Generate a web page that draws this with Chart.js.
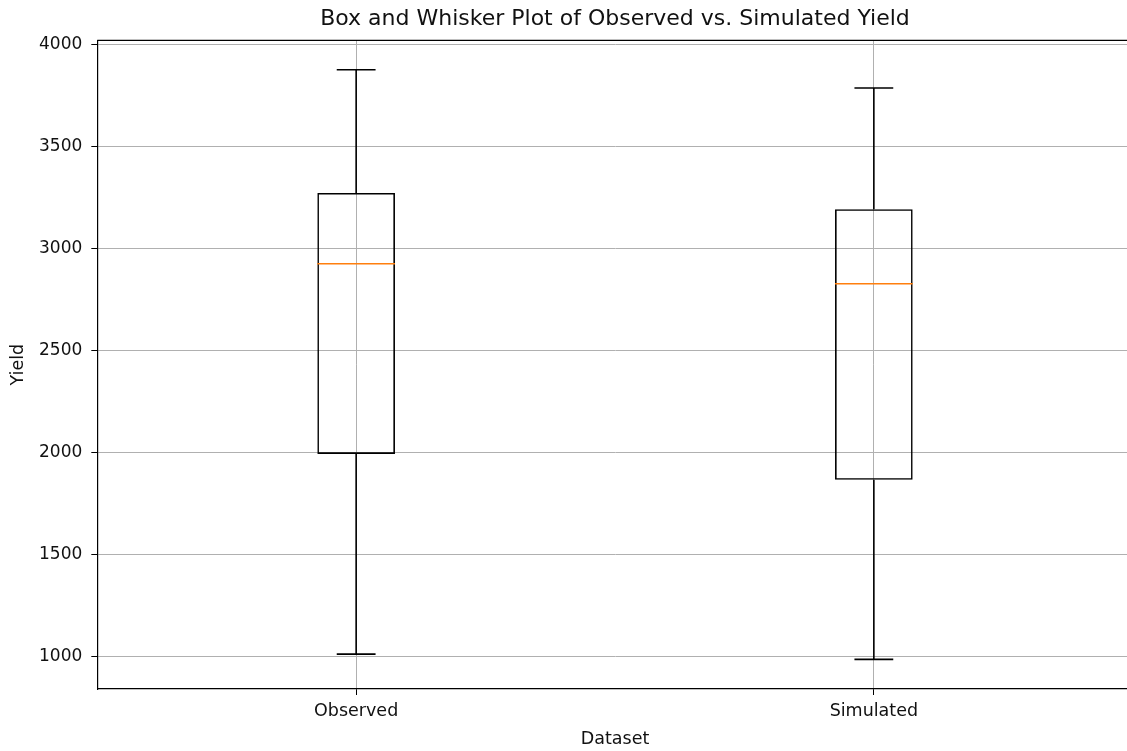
<!DOCTYPE html>
<html>
<head>
<meta charset="utf-8">
<title>Box and Whisker Plot of Observed vs. Simulated Yield</title>
<script src="https://cdn.jsdelivr.net/npm/chart.js@4.4.1/dist/chart.umd.min.js"></script>
<style>
  html, body { margin: 0; padding: 0; background: #ffffff; overflow: hidden; }
  #wrap { width: 1140px; height: 751px; }
</style>
</head>
<body>
<div id="wrap"><canvas id="chart" width="1140" height="751"></canvas></div>
<script>
// Five-number summaries per dataset
const categories = ['Observed', 'Simulated'];
const whiskerLow = [1013, 987];
const q1 = [1994, 1867];
const median = [2926, 2828];
const q3 = [3273, 3194];
const whiskerHigh = [3877, 3788];
const yTicks = [1000, 1500, 2000, 2500, 3000, 3500, 4000];

const FONT = "'DejaVu Sans', 'Liberation Sans', sans-serif";
const TEXT = '#111111';

// Whiskers, caps, medians and the top/right frame lines
const boxDecor = {
  id: 'boxDecor',
  afterDatasetsDraw(chart) {
    const { ctx, chartArea, scales } = chart;
    const xs = scales.x, ys = scales.y;
    const bars = chart.getDatasetMeta(0).data;
    ctx.save();
    categories.forEach((c, i) => {
      const cx = xs.getPixelForValue(i);
      const half = bars[i].width / 2;
      const capHalf = half / 2;
      ctx.strokeStyle = '#000000';
      ctx.lineWidth = 1.6;
      ctx.beginPath();
      ctx.moveTo(cx, ys.getPixelForValue(q3[i]));
      ctx.lineTo(cx, ys.getPixelForValue(whiskerHigh[i]));
      ctx.moveTo(cx, ys.getPixelForValue(q1[i]));
      ctx.lineTo(cx, ys.getPixelForValue(whiskerLow[i]));
      const yh = ys.getPixelForValue(whiskerHigh[i]);
      const yl = ys.getPixelForValue(whiskerLow[i]);
      ctx.moveTo(cx - capHalf, yh); ctx.lineTo(cx + capHalf, yh);
      ctx.moveTo(cx - capHalf, yl); ctx.lineTo(cx + capHalf, yl);
      ctx.stroke();
      ctx.strokeStyle = '#ff7f0e';
      ctx.beginPath();
      const ym = ys.getPixelForValue(median[i]);
      ctx.moveTo(cx - half, ym); ctx.lineTo(cx + half, ym);
      ctx.stroke();
    });
    ctx.strokeStyle = '#000000';
    ctx.lineWidth = 1.2;
    ctx.beginPath();
    ctx.moveTo(chartArea.left, chartArea.top);
    ctx.lineTo(chartArea.right, chartArea.top);
    ctx.lineTo(chartArea.right, chartArea.bottom);
    ctx.stroke();
    ctx.restore();
  }
};

new Chart(document.getElementById('chart'), {
  type: 'bar',
  data: {
    labels: categories,
    datasets: [{
      label: 'IQR',
      data: categories.map((c, i) => [q1[i], q3[i]]),
      backgroundColor: 'rgba(0,0,0,0)',
      borderColor: '#000000',
      borderWidth: 1.6,
      borderSkipped: false,
      categoryPercentage: 1,
      barPercentage: 0.15
    }]
  },
  options: {
    responsive: false,
    animation: false,
    devicePixelRatio: 1,
    layout: { padding: { left: 0, right: 7.3, top: 0, bottom: 0 } },
    plugins: {
      legend: { display: false },
      tooltip: { enabled: false },
      title: {
        display: true,
        fullSize: false,
        text: 'Box and Whisker Plot of Observed vs. Simulated Yield',
        color: TEXT,
        font: { family: FONT, size: 22, weight: 'normal' },
        padding: { top: 6, bottom: 8 }
      }
    },
    scales: {
      x: {
        type: 'category',
        offset: true,
        afterFit(scale) { scale.height = 62; },
        grid: { display: true, offset: false, color: '#b0b0b0', lineWidth: 1, tickColor: '#000000', tickLength: 6 },
        border: { display: true, color: '#000000', width: 1.2 },
        ticks: { color: TEXT, font: { family: FONT, size: 17.5 }, padding: 6 },
        title: { display: true, text: 'Dataset', color: TEXT, font: { family: FONT, size: 17.5 }, padding: { top: 0, bottom: 1 } }
      },
      y: {
        type: 'linear',
        min: 842,
        max: 4021,
        afterFit(scale) { scale.width = 97.3; },
        afterBuildTicks(scale) { scale.ticks = yTicks.map(v => ({ value: v })); },
        grid: { display: true, color: '#b0b0b0', lineWidth: 1, tickColor: '#000000', tickLength: 6 },
        border: { display: true, color: '#000000', width: 1.2 },
        ticks: { color: TEXT, font: { family: FONT, size: 17 }, padding: 9, callback: v => String(v) },
        title: { display: true, text: 'Yield', color: TEXT, font: { family: FONT, size: 17.5 }, padding: { top: 8, bottom: 0 } }
      }
    }
  },
  plugins: [boxDecor]
});
</script>
</body>
</html>
